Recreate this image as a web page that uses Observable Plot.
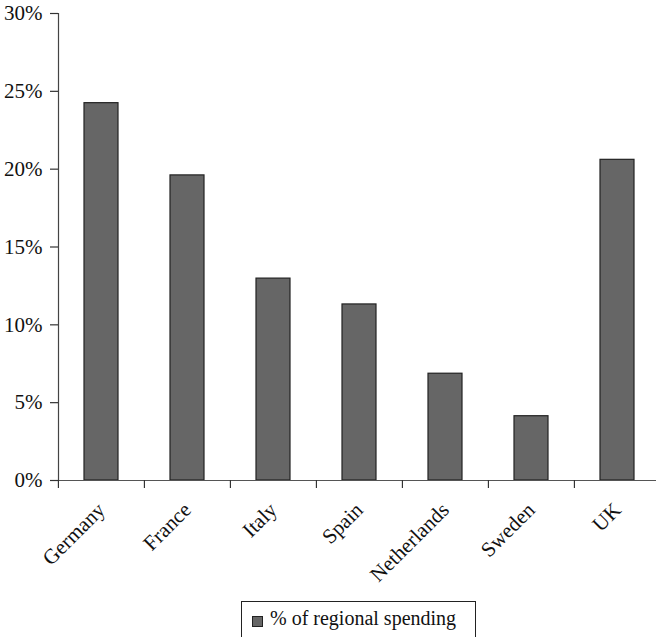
<!DOCTYPE html>
<html>
<head>
<meta charset="utf-8">
<script src="https://cdn.jsdelivr.net/npm/d3@7"></script>
<script src="https://cdn.jsdelivr.net/npm/@observablehq/plot@0.6"></script>
<style>
  html, body { margin: 0; padding: 0; background: #fff; }
  #chart { position: relative; width: 656px; height: 637px; overflow: hidden; font-family: "Liberation Serif", "Times New Roman", serif; }
  #chart svg { display: block; }
  #chart svg text { font-family: "Liberation Serif", "Times New Roman", serif; }
  .legend { position: absolute; left: 241px; top: 601px; width: 235px; height: 40px; border: 1px solid #222; box-sizing: border-box; font-size: 20px; color: #111; }
  .legend .sw { position: absolute; left: 10px; top: 14px; width: 9px; height: 9px; background: #666; border: 1px solid #222; }
  .legend .tx { position: absolute; left: 28px; top: 5px; white-space: nowrap; }
</style>
</head>
<body>
<div id="chart"></div>
<script>
const categories = ["Germany", "France", "Italy", "Spain", "Netherlands", "Sweden", "UK"];
const values = [24.24, 19.6, 12.97, 11.31, 6.86, 4.13, 20.6];
const yTicks = [0, 5, 10, 15, 20, 25, 30];
const seriesName = "% of regional spending";

const data = categories.map((c, i) => ({category: c, value: values[i]}));

const left = 58, right = 661;
const step = (right - left) / categories.length;
const serif = "'Liberation Serif', 'Times New Roman', serif";

const plot = Plot.plot({
  width: 656,
  height: 600,
  marginLeft: 58,
  marginRight: 0,
  marginTop: 13,
  marginBottom: 120,
  style: `font-family: ${serif}; font-size: 20px; color: #111; background: #fff;`,
  x: {domain: categories, range: [left, right], paddingInner: 0.6, paddingOuter: 0.3, label: null},
  y: {domain: [0, 30], label: null},
  marks: [
    Plot.barY(data, {x: "category", y: "value", fill: "#666666", stroke: "#222", strokeWidth: 1.2}),
    Plot.ruleY([0], {stroke: "#555", strokeWidth: 1.2}),
    Plot.frame({anchor: "left", stroke: "#444", strokeWidth: 1.2}),
    Plot.axisY({ticks: yTicks, tickSize: 8, tickPadding: 8, tickFormat: d => d + "%", stroke: "#333", strokeWidth: 1.2, fontSize: 21, fontFamily: serif, label: null}),
    Plot.axisX({tickSize: 8, dx: -step / 2, text: null, stroke: "#333", strokeWidth: 1.2, label: null}),
    Plot.axisX({tickSize: 0, tickRotate: -45, tickPadding: 26, fontSize: 21, fontFamily: serif, label: null})
  ]
});

const chart = document.getElementById("chart");
chart.appendChild(plot);
const legend = document.createElement("div");
legend.className = "legend";
legend.innerHTML = '<div class="sw"></div><div class="tx"></div>';
legend.querySelector(".tx").textContent = seriesName;
chart.appendChild(legend);
</script>
</body>
</html>
